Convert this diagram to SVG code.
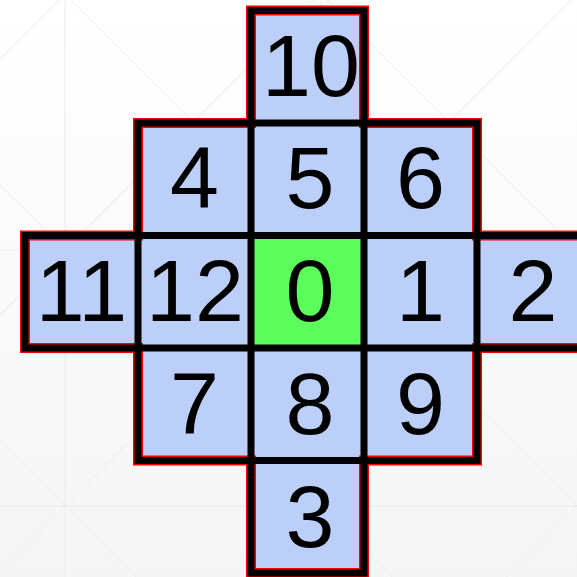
<svg xmlns="http://www.w3.org/2000/svg" width="577" height="577" viewBox="0 0 577 577">
<defs>
<linearGradient id="bg" x1="0" y1="0" x2="0" y2="1">
<stop offset="0" stop-color="#ffffff"/>
<stop offset="1" stop-color="#f5f5f5"/>
</linearGradient>
<style>
.bgl{stroke:#ebebeb;stroke-width:1;fill:none}
.cell{fill:#bccff8}
.center{fill:#5bfd5b}
.lbl{font-family:"Liberation Sans",Arial,sans-serif;font-size:88px;fill:#000;text-anchor:middle}
.outR{fill:none;stroke:#ff0000;stroke-width:10;stroke-linejoin:miter}
.outK{fill:none;stroke:#000;stroke-width:7;stroke-linejoin:miter}
.div{stroke:#000;stroke-width:7;fill:none}
</style>
</defs>
<rect x="0" y="0" width="577" height="577" fill="url(#bg)"/>
<g id="background-grid">
<line class="bgl" x1="65" y1="0" x2="65" y2="577"/>
<line class="bgl" x1="321" y1="0" x2="321" y2="577"/>
<line class="bgl" x1="0" y1="250" x2="577" y2="250"/>
<line class="bgl" x1="0" y1="506" x2="577" y2="506"/>
<line class="bgl" x1="0" y1="441" x2="136" y2="577"/>
<line class="bgl" x1="0" y1="185" x2="392" y2="577"/>
<line class="bgl" x1="71" y1="0" x2="577" y2="506"/>
<line class="bgl" x1="327" y1="0" x2="577" y2="250"/>
<line class="bgl" x1="59" y1="0" x2="0" y2="59"/>
<line class="bgl" x1="315" y1="0" x2="0" y2="315"/>
<line class="bgl" x1="571" y1="0" x2="0" y2="571"/>
<line class="bgl" x1="577" y1="250" x2="250" y2="577"/>
<line class="bgl" x1="577" y1="506" x2="506" y2="577"/>
</g>
<g id="cell-10"><rect class="cell" x="251" y="10.5" width="113" height="112.5"/><text class="lbl" x="311" y="96">10</text></g>
<g id="cell-4"><rect class="cell" x="138" y="123" width="113" height="112.5"/><text class="lbl" x="194.5" y="208">4</text></g>
<g id="cell-5"><rect class="cell" x="251" y="123" width="113" height="112.5"/><text class="lbl" x="310" y="208">5</text></g>
<g id="cell-6"><rect class="cell" x="364" y="123" width="113" height="112.5"/><text class="lbl" x="420.5" y="208">6</text></g>
<g id="cell-11"><rect class="cell" x="25" y="235.5" width="113" height="112.5"/><text class="lbl" x="81.5" y="321">11</text></g>
<g id="cell-12"><rect class="cell" x="138" y="235.5" width="113" height="112.5"/><text class="lbl" x="195" y="321">12</text></g>
<g id="cell-0"><rect class="center" x="251" y="235.5" width="113" height="112.5"/><text class="lbl" x="310" y="321">0</text></g>
<g id="cell-1"><rect class="cell" x="364" y="235.5" width="113" height="112.5"/><text class="lbl" x="420.5" y="321">1</text></g>
<g id="cell-2"><rect class="cell" x="477" y="235.5" width="113" height="112.5"/><text class="lbl" x="533" y="321">2</text></g>
<g id="cell-7"><rect class="cell" x="138" y="348" width="113" height="112.5"/><text class="lbl" x="194.5" y="434">7</text></g>
<g id="cell-8"><rect class="cell" x="251" y="348" width="113" height="112.5"/><text class="lbl" x="310" y="434">8</text></g>
<g id="cell-9"><rect class="cell" x="364" y="348" width="113" height="112.5"/><text class="lbl" x="420.5" y="434">9</text></g>
<g id="cell-3"><rect class="cell" x="251" y="460.5" width="113" height="112.5"/><text class="lbl" x="310" y="547">3</text></g>
<g id="connectors">
<polygon class="outR" points="251,10.5 364,10.5 364,123 477,123 477,235.5 590,235.5 590,348 477,348 477,460.5 364,460.5 364,573 251,573 251,460.5 138,460.5 138,348 25,348 25,235.5 138,235.5 138,123 251,123"/>
<polygon class="outK" points="251,10.5 364,10.5 364,123 477,123 477,235.5 590,235.5 590,348 477,348 477,460.5 364,460.5 364,573 251,573 251,460.5 138,460.5 138,348 25,348 25,235.5 138,235.5 138,123 251,123"/>
<path class="div" d="M251,123H364M138,235.5H477M138,348H477M251,460.5H364M251,123V460.5M364,123V460.5M138,235.5V348M477,235.5V348"/>
</g>
</svg>
